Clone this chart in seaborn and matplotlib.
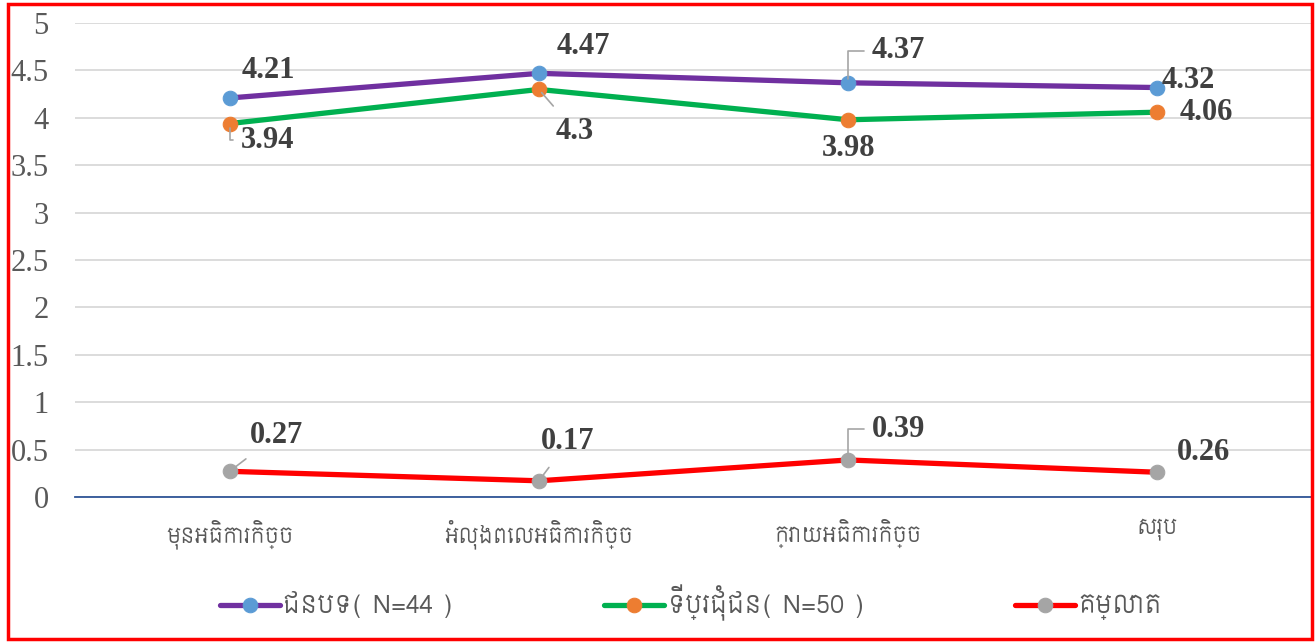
import matplotlib
matplotlib.use("Agg")
import matplotlib.pyplot as plt
from matplotlib.patches import Rectangle
import pandas as pd
import seaborn as sns


CATEGORIES = ["មុនអធិការកិច្ច", "អំលុងពេលអធិការកិច្ច", "ក្រោយអធិការកិច្ច", "សរុប"]
RURAL = [4.21, 4.47, 4.37, 4.32]
URBAN = [3.94, 4.30, 3.98, 4.06]
GAP = [0.27, 0.17, 0.39, 0.26]
SERIES_NAMES = ["ជនបទ( N=44 )", "ទីប្រជុំជន( N=50 )", "គម្លាត"]
Y_TICKS = [0, 0.5, 1, 1.5, 2, 2.5, 3, 3.5, 4, 4.5, 5]

STYLES = [
    {"color": "#7030A0", "marker": "#5B9BD5"},
    {"color": "#00B050", "marker": "#ED7D31"},
    {"color": "#FF0000", "marker": "#A5A5A5"},
]

# label offsets in points, and leader style (None, "line", "elbow")
LABEL_OFFSETS = [
    [((28, 20), None), ((32, 19), None), ((36, 23), "elbow"), ((22, 5), None)],
    [((27, -12), "elbow"), ((26, -30), "line"), ((0, -21), None), ((35, 0), None)],
    [((34, 26), "line"), ((21, 28), "line"), ((36, 22), "elbow"), ((33, 14), None)],
]

KHMER = ["Siemreap", "Noto Sans Khmer", "DejaVu Sans"]
SERIF = ["Liberation Serif", "DejaVu Serif"]


def build_frame() -> pd.DataFrame:
    frames = []
    for name, values in zip(SERIES_NAMES, [RURAL, URBAN, GAP]):
        frames.append(pd.DataFrame({"stage": CATEGORIES, "score": values, "group": name}))
    return pd.concat(frames, ignore_index=True)


sns.set_theme(style="white")
plt.rcParams["font.family"] = SERIF

data = build_frame()
fig = plt.figure(figsize=(13.16, 6.42), dpi=100)
ax = fig.add_axes([0.057, 0.226, 0.940, 0.738])

for name, style in zip(SERIES_NAMES, STYLES):
    sns.lineplot(
        data=data[data["group"] == name],
        x="stage",
        y="score",
        ax=ax,
        sort=False,
        color=style["color"],
        linewidth=3.8,
        marker="o",
        markersize=10.5,
        markerfacecolor=style["marker"],
        markeredgecolor=style["marker"],
        label=name,
    )

for (name, style, offsets) in zip(SERIES_NAMES, STYLES, LABEL_OFFSETS):
    sub = data[data["group"] == name].reset_index(drop=True)
    for i, row in sub.iterrows():
        (dx, dy), leader = offsets[i]
        arrow = None
        if leader == "line":
            arrow = {"arrowstyle": "-", "color": "#A5A5A5", "lw": 1.2,
                     "shrinkA": 7, "shrinkB": 3}
        elif leader == "elbow":
            arrow = {"arrowstyle": "-", "color": "#A5A5A5", "lw": 1.2,
                     "connectionstyle": "angle,angleA=0,angleB=90,rad=0",
                     "shrinkA": 3, "shrinkB": 3, "relpos": (0, 0.5)}
        ax.annotate(
            f"{row['score']:g}",
            xy=(i, row["score"]),
            xytext=(dx, dy),
            textcoords="offset points",
            ha="center",
            va="center",
            fontsize=22,
            fontweight="bold",
            color="#404040",
            family=SERIF,
            arrowprops=arrow,
        )

ax.set_xlim(-0.5, 3.5)
ax.set_ylim(0, 5)
ax.set_yticks(Y_TICKS)
ax.set_yticklabels([f"{t:g}" for t in Y_TICKS], fontsize=22, color="#595959", family=SERIF)
ax.tick_params(axis="y", length=0, pad=19)
ax.tick_params(axis="x", length=0, pad=16)
for label in ax.get_xticklabels():
    label.set_fontfamily(KHMER)
    label.set_fontsize(15)
    label.set_color("#595959")
ax.set_xlabel("")
ax.set_ylabel("")
ax.grid(axis="y", color="#D9D9D9", linewidth=1.3)
ax.set_axisbelow(True)
for side in ["top", "right", "left"]:
    ax.spines[side].set_visible(False)
ax.spines["bottom"].set_color("#2F5597")
ax.spines["bottom"].set_linewidth(1.3)

ax.legend(
    loc="center",
    bbox_to_anchor=(0.525, 0.061),
    bbox_transform=fig.transFigure,
    ncol=3,
    frameon=False,
    handlelength=2.4,
    handletextpad=0.15,
    columnspacing=6.0,
    prop={"family": KHMER, "size": 18},
    labelcolor="#595959",
)

fig.add_artist(Rectangle((0.006, 0.004), 0.991, 0.99, transform=fig.transFigure,
                         fill=False, edgecolor="#FF0000", linewidth=2.5))

fig.savefig("out.png", dpi=100)
